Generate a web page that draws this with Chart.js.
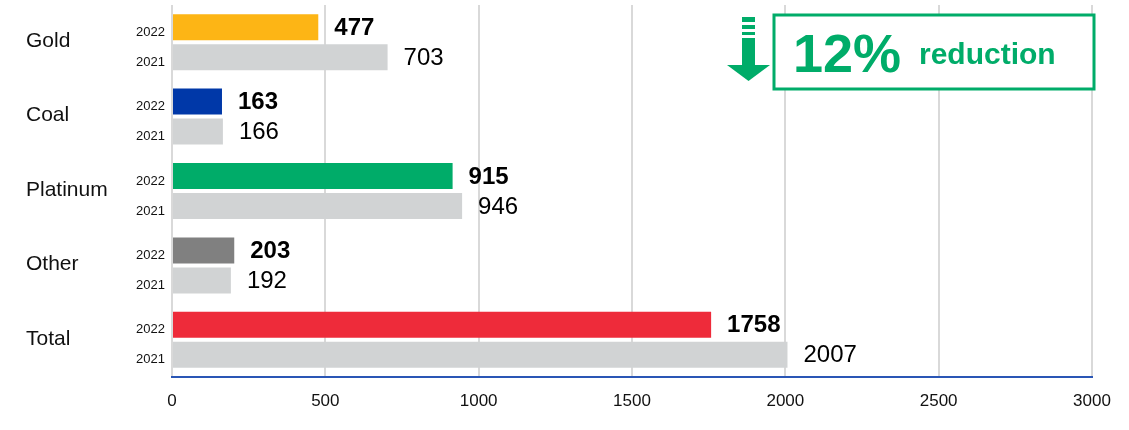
<!DOCTYPE html>
<html>
<head>
<meta charset="utf-8">
<script src="https://cdn.jsdelivr.net/npm/chart.js@4.4.0/dist/chart.umd.min.js"></script>
<style>
html,body{margin:0;padding:0;background:#fff;}
#wrap{position:relative;width:1129px;height:430px;}
</style>
</head>
<body>
<div id="wrap"><canvas id="c" width="1129" height="430"></canvas></div>
<script>
const categories = ["Gold", "Coal", "Platinum", "Other", "Total"];
const yearLabels = ["2022", "2021"];
const values2022 = [477, 163, 915, 203, 1758];
const values2021 = [703, 166, 946, 192, 2007];
const colors2022 = ["#FDB515", "#0038A8", "#00AC69", "#808080", "#EE2B3A"];
const color2021 = "#D1D3D4";
const xTicks = [0, 500, 1000, 1500, 2000, 2500, 3000];
const annotationBig = "12%";
const annotationSmall = "reduction";

const FONT = "'Liberation Sans', Arial, sans-serif";
const GREEN = "#00AC69";

const labelsPlugin = {
  id: 'labelsPlugin',
  afterDatasetsDraw(chart) {
    const ctx = chart.ctx;
    const yScale = chart.scales.y;
    ctx.save();
    chart.data.datasets.forEach((ds, di) => {
      const meta = chart.getDatasetMeta(di);
      meta.data.forEach((bar, i) => {
        ctx.font = (di === 0 ? 'bold ' : '') + '24px ' + FONT;
        ctx.fillStyle = '#000';
        ctx.textAlign = 'left';
        ctx.textBaseline = 'middle';
        ctx.fillText(String(ds.data[i]), bar.x + 16, bar.y + 1);
        ctx.font = '13px ' + FONT;
        ctx.textAlign = 'right';
        ctx.fillStyle = '#111';
        ctx.fillText(yearLabels[di], 165, bar.y + 5);
      });
    });
    ctx.font = '21px ' + FONT;
    ctx.textAlign = 'left';
    ctx.textBaseline = 'middle';
    ctx.fillStyle = '#111';
    categories.forEach((c, i) => {
      ctx.fillText(c, 26, yScale.getPixelForValue(i) - 1);
    });
    ctx.restore();
  }
};

const annotationPlugin = {
  id: 'annotationPlugin',
  afterDraw(chart) {
    const ctx = chart.ctx;
    const a = chart.chartArea;
    ctx.save();
    const bx = a.right - 318, by = a.top + 10, bw = 320, bh = 74;
    ctx.fillStyle = '#fff';
    ctx.fillRect(bx, by, bw, bh);
    ctx.strokeStyle = GREEN;
    ctx.lineWidth = 3;
    ctx.strokeRect(bx, by, bw, bh);
    ctx.fillStyle = GREEN;
    ctx.textBaseline = 'alphabetic';
    ctx.textAlign = 'left';
    ctx.font = 'bold 54px ' + FONT;
    ctx.fillText(annotationBig, bx + 19, by + 57);
    ctx.font = 'bold 30px ' + FONT;
    ctx.fillText(annotationSmall, bx + 145, by + 49);
    const ax = bx - 32;
    ctx.fillRect(ax, 17, 13, 5);
    ctx.fillRect(ax, 25, 13, 4);
    ctx.fillRect(ax, 32, 13, 3);
    ctx.fillRect(ax, 38, 13, 28);
    ctx.beginPath();
    ctx.moveTo(ax - 15, 65);
    ctx.lineTo(ax + 28, 65);
    ctx.lineTo(ax + 6.5, 81);
    ctx.closePath();
    ctx.fill();
    ctx.restore();
  }
};

new Chart(document.getElementById('c'), {
  type: 'bar',
  data: {
    labels: categories,
    datasets: [
      { label: yearLabels[0], data: values2022, backgroundColor: colors2022,
        categoryPercentage: 0.806, barPercentage: 0.867 },
      { label: yearLabels[1], data: values2021, backgroundColor: color2021,
        categoryPercentage: 0.806, barPercentage: 0.867 }
    ]
  },
  options: {
    indexAxis: 'y',
    responsive: false,
    animation: false,
    layout: { padding: { top: 5, right: 37, left: 0, bottom: 0 } },
    plugins: { legend: { display: false }, tooltip: { enabled: false } },
    scales: {
      x: {
        min: 0, max: 3000,
        afterBuildTicks(scale) { scale.ticks = xTicks.map(v => ({ value: v })); },
        afterFit(scale) { scale.height = 53; },
        grid: { color: '#D9D9D9', lineWidth: 2, drawTicks: false },
        border: { display: true, color: '#2A56B5', width: 2 },
        ticks: { font: { family: FONT, size: 17 }, color: '#111', padding: 14,
                 callback: (v) => String(v) }
      },
      y: {
        afterFit(scale) { scale.width = 172; },
        grid: { display: false },
        border: { display: false },
        ticks: { display: false }
      }
    }
  },
  plugins: [labelsPlugin, annotationPlugin]
});
</script>
</body>
</html>
